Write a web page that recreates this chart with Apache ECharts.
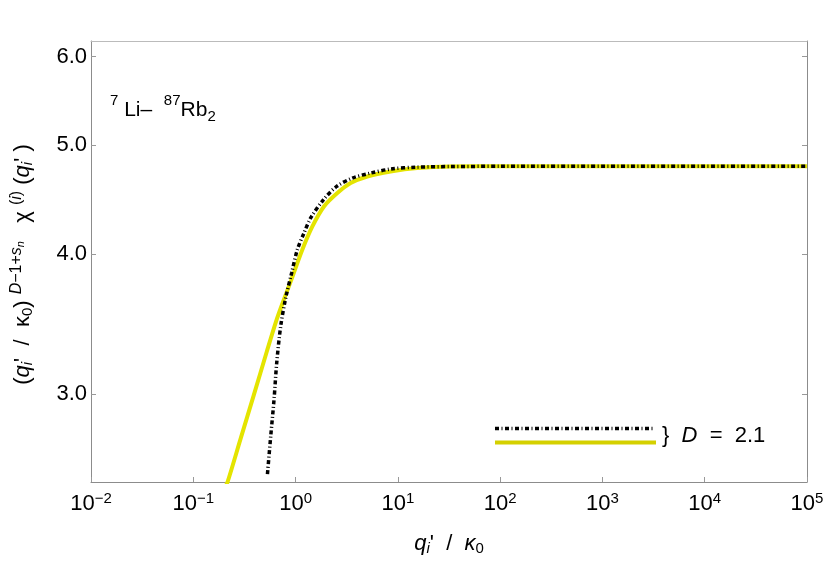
<!DOCTYPE html>
<html>
<head>
<meta charset="utf-8">
<script src="https://cdn.jsdelivr.net/npm/echarts@6/dist/echarts.min.js"></script>
<style>html,body{margin:0;padding:0;background:#fff}#c{width:828px;height:564px}</style>
</head>
<body>
<div id="c"></div>
<script>
// ---- data ----
const yellowX = [0.205, 0.2161, 0.2913, 0.3903, 0.5226, 0.6544, 0.7663, 0.8966, 1.166, 1.460, 1.895, 2.561, 3.453, 5.027, 8.49, 15.47, 32.7, 100, 1000, 10000, 100000];
const yellowY = [2.48, 2.504, 2.741, 2.994, 3.273, 3.498, 3.641, 3.782, 4.038, 4.234, 4.411, 4.534, 4.628, 4.691, 4.739, 4.773, 4.788, 4.79, 4.79, 4.79, 4.79];
const blackX = [0.5310, 0.5719, 0.6161, 0.6544, 0.7160, 0.8013, 0.9168, 1.042, 1.209, 1.405, 1.870, 2.521, 3.588, 5.415, 8.49, 15.47, 32.7, 100, 1000, 10000, 100000];
const blackY = [2.546, 2.754, 2.969, 3.201, 3.451, 3.657, 3.850, 4.038, 4.177, 4.308, 4.472, 4.596, 4.676, 4.724, 4.763, 4.782, 4.788, 4.79, 4.79, 4.79, 4.79];
const yTickVals = [3, 4, 5, 6];
const xRange = [0.01, 100000];
const yRange = [2.505, 6.196];

const FF = 'Liberation Sans, Arial, sans-serif';
const zip = (a, b) => a.map((v, i) => [v, b[i]]);

const chart = echarts.init(document.getElementById('c'), null, {renderer: 'canvas'});

const labelRich = {
  b: {fontSize: 22, lineHeight: 26, fontFamily: FF, color: '#000'},
  s: {fontSize: 15, lineHeight: 16, height: 16, verticalAlign: 'top', fontFamily: FF, color: '#000'}
};
const nameRich = {
  m: {fontSize: 22, lineHeight: 30, fontFamily: FF, color: '#000'},
  it: {fontSize: 22, lineHeight: 30, fontStyle: 'italic', fontFamily: FF, color: '#000'},
  sub: {fontSize: 15, lineHeight: 20, height: 20, verticalAlign: 'bottom', fontFamily: FF, color: '#000'},
  subit: {fontSize: 15, lineHeight: 20, height: 20, verticalAlign: 'bottom', fontStyle: 'italic', fontFamily: FF, color: '#000'},
  sup: {fontSize: 16, lineHeight: 17, height: 17, verticalAlign: 'top', fontFamily: FF, color: '#000'},
  supit: {fontSize: 16, lineHeight: 17, height: 17, verticalAlign: 'top', fontStyle: 'italic', fontFamily: FF, color: '#000'},
  ssub: {fontSize: 11, lineHeight: 25, height: 25, verticalAlign: 'top', fontStyle: 'italic', fontFamily: FF, color: '#000'}
};

const option = {
  animation: false,
  backgroundColor: '#fff',
  grid: {left: 90, right: 21, top: 41, bottom: 81, containLabel: false},
  xAxis: [{
    type: 'log', min: xRange[0], max: xRange[1], splitNumber: 7, position: 'bottom',
    axisLine: {show: true, lineStyle: {color: '#8c8c8c', width: 1}},
    axisTick: {show: true, inside: true, length: 5, lineStyle: {color: '#999'}},
    minorTick: {show: false}, splitLine: {show: false},
    axisLabel: {
      margin: 9,
      formatter: v => {
        const e = Math.round(Math.log10(v));
        return '{b|10}{s|' + (e < 0 ? '\u2212' + (-e) : e) + '}';
      },
      rich: labelRich
    },
    name: '{it|q}{subit|i}{m|\'  /  }{it|\u03ba}{sub|0}',
    nameLocation: 'middle', nameGap: 47,
    nameTextStyle: {rich: nameRich}
  }, {
    type: 'log', min: xRange[0], max: xRange[1], position: 'top',
    axisLine: {show: true, lineStyle: {color: '#bbbbbb', width: 1}},
    axisTick: {show: false}, axisLabel: {show: false}, splitLine: {show: false}
  }],
  yAxis: [{
    type: 'log', min: yRange[0], max: yRange[1], position: 'left',
    axisLine: {show: true, lineStyle: {color: '#8c8c8c', width: 1}},
    axisTick: {show: true, inside: true, length: 5, lineStyle: {color: '#999'}, customValues: yTickVals},
    minorTick: {show: false}, splitLine: {show: false},
    axisLabel: {
      margin: 4, customValues: yTickVals,
      formatter: v => Number(v).toFixed(1),
      fontSize: 22, fontFamily: FF, color: '#000'
    },
    name: '{m|(}{it|q}{subit|i}{m|\'  /  \u03ba}{sub|0}{m|) }{supit|D}{sup|\u22121+}{supit|s}{ssub|n}{m|   \u03c7 }{sup|(}{supit|i}{sup|)}{m| (}{it|q}{subit|i}{m|\' )}',
    nameLocation: 'middle', nameGap: 53, nameRotate: 90,
    nameTextStyle: {rich: nameRich, padding: [0, 6, 0, 0]}
  }, {
    type: 'log', min: yRange[0], max: yRange[1], position: 'right',
    axisLine: {show: true, lineStyle: {color: '#8c8c8c', width: 1}},
    axisTick: {show: true, inside: true, length: 5, lineStyle: {color: '#999'}, customValues: yTickVals},
    axisLabel: {show: false, customValues: yTickVals}, splitLine: {show: false}, minorTick: {show: false}
  }],
  series: [{
    name: 'yellow', type: 'line', xAxisIndex: 0, yAxisIndex: 0,
    data: zip(yellowX, yellowY), showSymbol: false, symbol: 'none', smooth: 0.3,
    lineStyle: {color: '#e4e400', width: 4}, clip: true, z: 2
  }, {
    name: 'black', type: 'line', xAxisIndex: 0, yAxisIndex: 0,
    data: zip(blackX, blackY), showSymbol: false, symbol: 'none', smooth: 0.3,
    lineStyle: {color: '#000', width: 3.5, type: [4, 2.5, 1, 2.5]}, clip: true, z: 3
  }],
  graphic: [
    {type: 'text', left: 110, top: 93, z: 10, style: {
      text: '{sup|7}{m| Li\u2013  }{sup|87}{m|Rb}{sub|2}',
      rich: {
        m: {fontSize: 21, lineHeight: 34, fontFamily: FF, fill: '#000'},
        sup: {fontSize: 15, lineHeight: 14, height: 14, verticalAlign: 'top', fontFamily: FF, fill: '#000'},
        sub: {fontSize: 15, lineHeight: 22, height: 22, verticalAlign: 'bottom', fontFamily: FF, fill: '#000'}
      }
    }},
    {type: 'line', z: 10, shape: {x1: 495, y1: 428.5, x2: 653, y2: 428.5},
      style: {stroke: '#000', lineWidth: 3.5, lineDash: [4, 2.5, 1, 2.5]}},
    {type: 'line', z: 10, shape: {x1: 495, y1: 442.5, x2: 656, y2: 442.5},
      style: {stroke: '#d4d000', lineWidth: 4}},
    {type: 'text', left: 662, top: 425, z: 10, style: {
      text: '}  {it|D}  =  2.1',
      fontSize: 22, fontFamily: FF, fill: '#000',
      rich: {it: {fontSize: 22, fontStyle: 'italic', fontFamily: FF, fill: '#000'}}
    }}
  ]
};
chart.setOption(option);
</script>
</body>
</html>
